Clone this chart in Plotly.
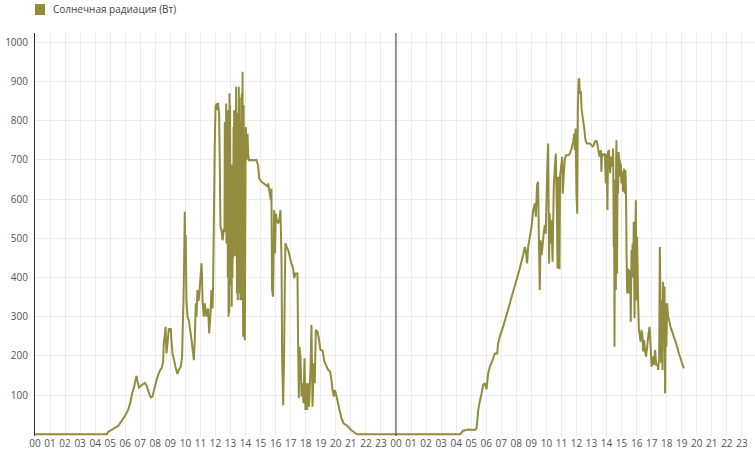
import plotly.graph_objects as go

# Day 1 (local hours, W)
day1_hours = [0.0, 4.79, 4.86, 5.53, 5.97, 6.19, 6.35, 6.46, 6.59, 6.75, 6.82, 6.92, 7.08, 7.30, 7.41, 7.57,
              7.70, 7.81, 7.97, 8.08, 8.19, 8.30, 8.41, 8.52, 8.56, 8.63, 8.68, 8.74, 8.81, 8.90, 8.96, 9.03,
              9.07, 9.14, 9.25, 9.34, 9.47, 9.56, 9.69, 9.78, 9.83, 9.87, 9.92, 9.96, 10.00, 10.02, 10.07,
              10.14, 10.23, 10.41, 10.51, 10.56, 10.62, 10.69, 10.74, 10.80, 10.88, 10.96, 11.02, 11.07,
              11.10, 11.14, 11.22, 11.29, 11.40, 11.51, 11.58, 11.67, 11.73, 11.80, 11.84, 11.89, 11.95,
              12.00, 12.07, 12.13, 12.17, 12.24, 12.29, 12.33, 12.40, 12.47, 12.55, 12.60, 12.62, 12.64,
              12.66, 12.68, 12.71, 12.73, 12.75, 12.77, 12.80, 12.82, 12.84, 12.87, 12.89, 12.91, 12.93,
              12.95, 12.97, 13.00, 13.02, 13.04, 13.06, 13.08, 13.10, 13.13, 13.15, 13.17, 13.20, 13.22,
              13.24, 13.26, 13.28, 13.31, 13.33, 13.35, 13.37, 13.40, 13.43, 13.46, 13.48, 13.50, 13.53,
              13.55, 13.57, 13.60, 13.62, 13.64, 13.66, 13.68, 13.70, 13.72, 13.75, 13.78, 13.80, 13.82,
              13.84, 13.87, 13.90, 13.92, 13.95, 14.00, 14.02, 14.06, 14.13, 14.17, 14.23, 14.39, 14.61,
              14.72, 14.83, 14.90, 15.06, 15.28, 15.46, 15.50, 15.61, 15.68, 15.72, 15.76, 15.83, 15.90,
              15.96, 16.01, 16.08, 16.17, 16.26, 16.32, 16.39, 16.43, 16.50, 16.56, 16.61, 16.65, 16.74,
              16.83, 16.94, 17.05, 17.16, 17.23, 17.32, 17.45, 17.49, 17.54, 17.58, 17.65, 17.72, 17.78,
              17.85, 17.92, 17.98, 18.03, 18.09, 18.16, 18.22, 18.32, 18.38, 18.45, 18.54, 18.60, 18.67,
              18.78, 18.87, 18.98, 19.05, 19.14, 19.22, 19.34, 19.49, 19.62, 19.71, 19.78, 19.87, 19.94,
              20.05, 20.15, 20.27, 20.38, 20.51, 20.71, 20.86, 21.00, 21.15, 21.31, 21.44, 24.0]
day1_watts = [0, 0, 6, 21, 46, 62, 83, 104, 121, 149, 134, 119, 125, 131, 125, 106,
              94, 96, 121, 138, 151, 162, 168, 185, 232, 253, 274, 206, 232, 270, 266, 270,
              240, 206, 189, 172, 154, 164, 172, 198, 283, 334, 453, 568, 427, 508, 342,
              300, 291, 240, 206, 189, 240, 334, 300, 368, 340, 376, 410, 436,
              406, 342, 300, 334, 300, 321, 257, 308, 368, 321, 376, 538, 733,
              835, 844, 827, 846, 819, 674, 529, 521, 495, 521, 520, 797, 540,
              760, 529, 844, 487, 800, 560, 827, 400, 780, 300, 700, 310, 870,
              500, 840, 461, 560, 380, 660, 325, 688, 400, 640, 450, 784, 500,
              827, 560, 790, 455, 800, 600, 887, 608, 359, 820, 342, 700, 400,
              887, 611, 860, 359, 760, 342, 800, 611, 342, 870, 400, 925, 500,
              249, 840, 608, 300, 240, 700, 784, 699, 767, 715, 699, 700, 699,
              700, 687, 653, 644, 638, 633, 640, 614, 597, 627, 368, 351, 572,
              461, 563, 546, 538, 551, 572, 444, 198, 74, 198, 385, 487, 478,
              470, 453, 436, 423, 398, 410, 410, 249, 92, 223, 198, 96, 130,
              79, 194, 62, 130, 62, 130, 70, 172, 279, 70, 181, 130, 266,
              262, 245, 215, 215, 211, 189, 177, 164, 160, 138, 113, 96, 113,
              96, 79, 57, 41, 28, 23, 18, 11, 7, 2, 0, 0]

# Day 2 (local hours, W)
day2_hours = [0.0, 4.29, 4.46, 4.80, 5.24, 5.36, 5.47, 5.57, 5.69, 5.79, 5.91, 6.02, 6.13, 6.24, 6.42,
              6.57, 6.73, 6.79, 6.90, 7.12, 7.35, 7.57, 7.79, 8.01, 8.23, 8.45, 8.57, 8.63, 8.72, 8.79,
              8.90, 9.01, 9.12, 9.23, 9.30, 9.38, 9.45, 9.50, 9.56, 9.61, 9.68, 9.74, 9.82, 9.89, 9.96,
              10.05, 10.12, 10.18, 10.22, 10.27, 10.34, 10.41, 10.49, 10.56, 10.63, 10.67, 10.71, 10.74,
              10.78, 10.81, 10.83, 10.87, 10.91, 10.98, 11.05, 11.09, 11.16, 11.22, 11.29, 11.45, 11.56,
              11.67, 11.78, 11.85, 11.89, 11.94, 12.00, 12.05, 12.09, 12.14, 12.18, 12.22, 12.29, 12.34,
              12.42, 12.51, 12.60, 12.69, 12.89, 13.00, 13.10, 13.22, 13.33, 13.40, 13.49, 13.55, 13.62,
              13.66, 13.70, 13.77, 13.89, 13.95, 14.00, 14.06, 14.10, 14.16, 14.24, 14.28, 14.37, 14.44,
              14.48, 14.50, 14.53, 14.55, 14.57, 14.60, 14.62, 14.64, 14.66, 14.68, 14.70, 14.73, 14.77,
              14.80, 14.84, 14.88, 14.90, 14.95, 14.99, 15.06, 15.10, 15.15, 15.22, 15.26, 15.30, 15.33,
              15.37, 15.44, 15.50, 15.57, 15.61, 15.66, 15.70, 15.73, 15.77, 15.81, 15.86, 15.90, 15.95,
              15.99, 16.03, 16.10, 16.15, 16.21, 16.26, 16.33, 16.39, 16.43, 16.50, 16.56, 16.63, 16.70,
              16.79, 16.86, 16.92, 16.99, 17.06, 17.14, 17.23, 17.30, 17.39, 17.43, 17.50, 17.54, 17.59,
              17.63, 17.68, 17.72, 17.76, 17.81, 17.85, 17.89, 17.94, 17.98, 18.03, 18.09, 18.16, 18.25,
              18.36, 18.47, 18.59, 18.69, 18.81, 18.92, 19.02, 19.14]
day2_watts = [0, 0, 9, 12, 11, 15, 62, 83, 104, 125, 130, 115, 155, 172, 189,
              206, 206, 232, 249, 274, 304, 334, 364, 393, 423, 457, 478, 470, 436, 478,
              504, 529, 572, 589, 555, 636, 644, 504, 368, 495, 457, 478, 512, 534, 512,
              666, 742, 436, 564, 487, 546, 440, 631, 682, 716, 619, 538, 423,
              657, 470, 546, 421, 661, 682, 708, 614, 666, 699, 712, 712, 716,
              729, 746, 767, 725, 780, 614, 563, 827, 904, 908, 870, 875, 831,
              806, 784, 750, 742, 742, 738, 733, 746, 750, 738, 716, 708, 725,
              670, 716, 712, 716, 640, 716, 572, 721, 725, 666, 708, 682, 729,
              478, 650, 223, 500, 598, 400, 368, 700, 750, 500, 410, 680, 614,
              720, 699, 699, 657, 691, 640, 670, 619, 678, 614, 674, 600, 461,
              359, 423, 359, 419, 287, 470, 400, 487, 419, 542, 296, 487, 597,
              342, 504, 342, 266, 253, 236, 266, 249, 211, 240, 211, 198, 223,
              257, 274, 232, 172, 198, 177, 215, 177, 177, 164, 198, 478, 334,
              181, 342, 164, 389, 334, 376, 104, 334, 223, 334, 300, 291, 274,
              262, 249, 236, 223, 206, 194, 181, 168]

hour_labels = ["%02d" % h for h in range(24)]
series_name = "Солнечная радиация (Вт)"
y_ticks = [100, 200, 300, 400, 500, 600, 700, 800, 900, 1000]

line_color = "#918c3e"
font_family = "Open Sans"

assert len(day1_hours) == len(day1_watts)
assert len(day2_hours) == len(day2_watts)

x_all = day1_hours + [h + 24 for h in day2_hours]
y_all = day1_watts + day2_watts

fig = go.Figure()
fig.add_trace(go.Scatter(x=x_all, y=y_all, mode="lines",
                         line=dict(color=line_color, width=2, simplify=False),
                         name=series_name, showlegend=False, hoverinfo="skip"))

tickvals = list(range(48))
ticktext = hour_labels + hour_labels

fig.update_layout(
    width=755, height=451,
    margin=dict(l=35, r=0, t=33, b=15),
    paper_bgcolor="white", plot_bgcolor="white",
    font=dict(family=font_family, size=10, color="#545454"),
    xaxis=dict(range=[0, 47.87], tickvals=tickvals, ticktext=ticktext,
               showgrid=True, gridcolor="#ececec", gridwidth=1,
               zeroline=False, showline=False, ticks="",
               tickfont=dict(size=10, color="#545454"), fixedrange=True),
    yaxis=dict(range=[-4.6, 1024], tickvals=y_ticks,
               showgrid=True, gridcolor="#ececec", gridwidth=1,
               zeroline=False, showline=True, linecolor="#333333", linewidth=1,
               ticks="outside", ticklen=4, tickcolor="rgba(0,0,0,0)",
               tickfont=dict(size=10, color="#545454"), fixedrange=True),
)

# day boundary line
fig.add_shape(type="line", xref="x", yref="paper", x0=24, x1=24, y0=0, y1=1,
              line=dict(color="#333333", width=1))

# legend: square + label
fig.add_shape(type="rect", xref="paper", yref="paper",
              x0=0, x1=10 / 720, y0=1 + (33 - 15) / 403, y1=1 + (33 - 4) / 403,
              fillcolor=line_color, line=dict(width=0))
fig.add_annotation(xref="paper", yref="paper", x=(50.5 - 35) / 720, y=1 + (33 - 9.5) / 403,
                   xanchor="left", yanchor="middle", showarrow=False,
                   text=series_name, font=dict(family=font_family, size=10, color="#444444"))

fig.write_html("out.html", config={"displayModeBar": False},
               post_script="document.body.style.margin='0';document.body.style.overflow='hidden';")
